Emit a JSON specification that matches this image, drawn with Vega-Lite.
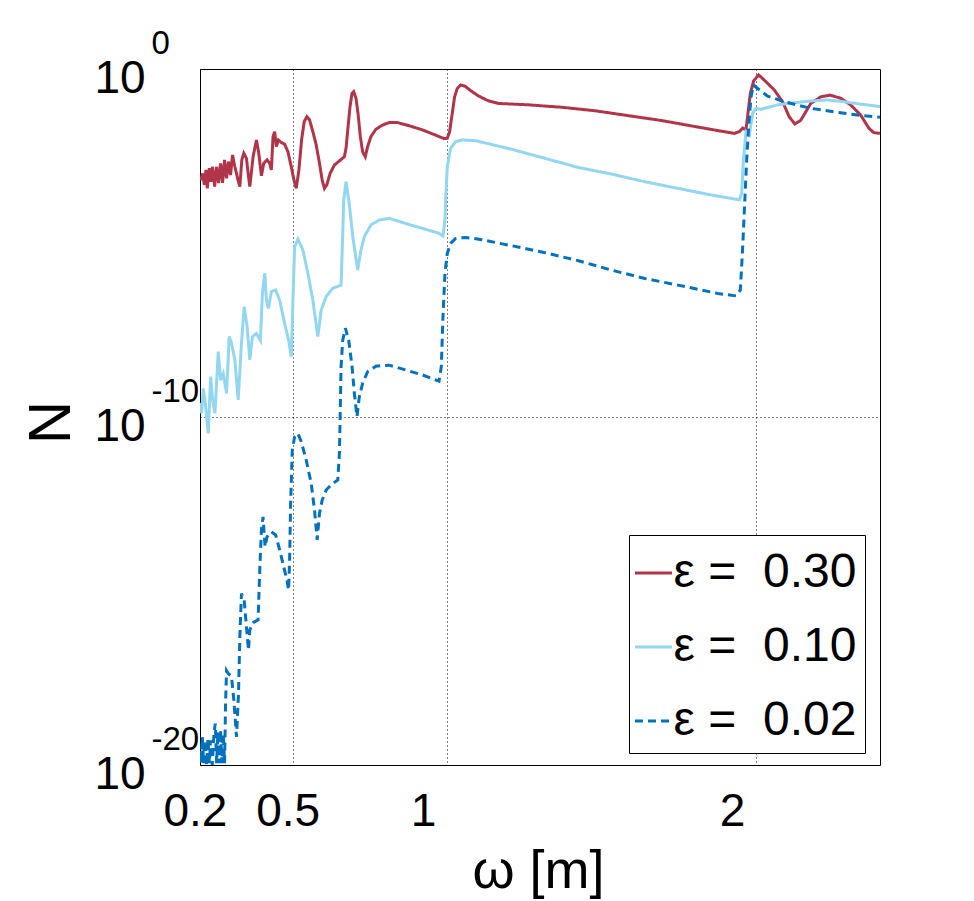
{
  "$schema": "https://vega.github.io/schema/vega-lite/v6.json",
  "width": 680,
  "height": 696,
  "autosize": {"type": "none"},
  "padding": {"left": 200, "top": 69, "right": 94, "bottom": 136},
  "background": "white",
  "config": {
    "view": {"stroke": "black", "strokeWidth": 1},
    "font": "Liberation Sans"
  },
  "resolve": {"axis": {"y": "independent"}},
  "layer": [
    {
      "data": {
        "values": [
          {"w":0.2000,"n":-3.10,"eps":"0.30"},{"w":0.2021,"n":-3.19,"eps":"0.30"},{"w":0.2086,"n":-3.00,"eps":"0.30"},{"w":0.2140,"n":-3.33,"eps":"0.30"},
          {"w":0.2193,"n":-2.90,"eps":"0.30"},{"w":0.2236,"n":-3.43,"eps":"0.30"},{"w":0.2301,"n":-2.85,"eps":"0.30"},{"w":0.2354,"n":-3.24,"eps":"0.30"},
          {"w":0.2408,"n":-2.81,"eps":"0.30"},{"w":0.2473,"n":-3.38,"eps":"0.30"},{"w":0.2537,"n":-2.81,"eps":"0.30"},{"w":0.2601,"n":-3.28,"eps":"0.30"},
          {"w":0.2666,"n":-2.71,"eps":"0.30"},{"w":0.2730,"n":-3.27,"eps":"0.30"},{"w":0.2795,"n":-2.61,"eps":"0.30"},{"w":0.2859,"n":-3.14,"eps":"0.30"},
          {"w":0.2924,"n":-2.66,"eps":"0.30"},{"w":0.2988,"n":-3.05,"eps":"0.30"},{"w":0.3052,"n":-2.47,"eps":"0.30"},{"w":0.3128,"n":-2.81,"eps":"0.30"},
          {"w":0.3181,"n":-3.00,"eps":"0.30"},{"w":0.3235,"n":-3.21,"eps":"0.30"},{"w":0.3289,"n":-3.38,"eps":"0.30"},{"w":0.3353,"n":-2.61,"eps":"0.30"},
          {"w":0.3418,"n":-2.42,"eps":"0.30"},{"w":0.3503,"n":-2.57,"eps":"0.30"},{"w":0.3557,"n":-3.00,"eps":"0.30"},{"w":0.3611,"n":-3.38,"eps":"0.30"},
          {"w":0.3718,"n":-2.52,"eps":"0.30"},{"w":0.3826,"n":-2.04,"eps":"0.30"},{"w":0.3901,"n":-2.42,"eps":"0.30"},{"w":0.3987,"n":-3.07,"eps":"0.30"},
          {"w":0.4062,"n":-2.71,"eps":"0.30"},{"w":0.4169,"n":-2.61,"eps":"0.30"},{"w":0.4255,"n":-2.71,"eps":"0.30"},{"w":0.4309,"n":-2.90,"eps":"0.30"},
          {"w":0.4363,"n":-1.94,"eps":"0.30"},{"w":0.4416,"n":-1.80,"eps":"0.30"},{"w":0.4470,"n":-2.23,"eps":"0.30"},{"w":0.4534,"n":-2.04,"eps":"0.30"},
          {"w":0.4631,"n":-2.11,"eps":"0.30"},{"w":0.4738,"n":-2.16,"eps":"0.30"},{"w":0.4846,"n":-2.38,"eps":"0.30"},{"w":0.4953,"n":-2.81,"eps":"0.30"},
          {"w":0.5039,"n":-3.19,"eps":"0.30"},{"w":0.5114,"n":-3.43,"eps":"0.30"},{"w":0.5200,"n":-2.90,"eps":"0.30"},{"w":0.5286,"n":-2.04,"eps":"0.30"},
          {"w":0.5372,"n":-1.51,"eps":"0.30"},{"w":0.5458,"n":-1.37,"eps":"0.30"},{"w":0.5544,"n":-1.46,"eps":"0.30"},{"w":0.5651,"n":-1.80,"eps":"0.30"},
          {"w":0.5759,"n":-2.18,"eps":"0.30"},{"w":0.5866,"n":-2.71,"eps":"0.30"},{"w":0.5952,"n":-3.19,"eps":"0.30"},{"w":0.6027,"n":-3.43,"eps":"0.30"},
          {"w":0.6102,"n":-3.33,"eps":"0.30"},{"w":0.6209,"n":-3.00,"eps":"0.30"},{"w":0.6349,"n":-2.76,"eps":"0.30"},{"w":0.6510,"n":-2.64,"eps":"0.30"},
          {"w":0.6671,"n":-2.52,"eps":"0.30"},{"w":0.6725,"n":-2.28,"eps":"0.30"},{"w":0.6790,"n":-1.66,"eps":"0.30"},{"w":0.6854,"n":-1.08,"eps":"0.30"},
          {"w":0.6918,"n":-0.70,"eps":"0.30"},{"w":0.6972,"n":-0.65,"eps":"0.30"},{"w":0.7047,"n":-0.84,"eps":"0.30"},{"w":0.7112,"n":-1.27,"eps":"0.30"},
          {"w":0.7187,"n":-1.94,"eps":"0.30"},{"w":0.7262,"n":-2.38,"eps":"0.30"},{"w":0.7348,"n":-2.52,"eps":"0.30"},{"w":0.7423,"n":-2.23,"eps":"0.30"},
          {"w":0.7531,"n":-1.94,"eps":"0.30"},{"w":0.7692,"n":-1.73,"eps":"0.30"},{"w":0.7906,"n":-1.61,"eps":"0.30"},{"w":0.8121,"n":-1.54,"eps":"0.30"},
          {"w":0.8390,"n":-1.54,"eps":"0.30"},{"w":0.8765,"n":-1.63,"eps":"0.30"},{"w":0.9195,"n":-1.75,"eps":"0.30"},{"w":0.9624,"n":-1.90,"eps":"0.30"},
          {"w":0.9893,"n":-2.00,"eps":"0.30"},{"w":1.0000,"n":-1.99,"eps":"0.30"},{"w":1.0076,"n":-1.80,"eps":"0.30"},{"w":1.0162,"n":-1.27,"eps":"0.30"},
          {"w":1.0237,"n":-0.80,"eps":"0.30"},{"w":1.0323,"n":-0.56,"eps":"0.30"},{"w":1.0430,"n":-0.46,"eps":"0.30"},{"w":1.0570,"n":-0.49,"eps":"0.30"},
          {"w":1.0752,"n":-0.62,"eps":"0.30"},{"w":1.1021,"n":-0.78,"eps":"0.30"},{"w":1.1343,"n":-0.92,"eps":"0.30"},{"w":1.1665,"n":-0.99,"eps":"0.30"},
          {"w":1.2632,"n":-1.03,"eps":"0.30"},{"w":1.3706,"n":-1.10,"eps":"0.30"},{"w":1.4780,"n":-1.20,"eps":"0.30"},{"w":1.5853,"n":-1.34,"eps":"0.30"},
          {"w":1.6927,"n":-1.48,"eps":"0.30"},{"w":1.8055,"n":-1.66,"eps":"0.30"},{"w":1.8753,"n":-1.77,"eps":"0.30"},{"w":1.9290,"n":-1.85,"eps":"0.30"},
          {"w":1.9451,"n":-1.80,"eps":"0.30"},{"w":1.9558,"n":-1.70,"eps":"0.30"},{"w":1.9665,"n":-1.75,"eps":"0.30"},{"w":1.9741,"n":-1.18,"eps":"0.30"},
          {"w":1.9805,"n":-0.70,"eps":"0.30"},{"w":1.9913,"n":-0.34,"eps":"0.30"},{"w":2.0074,"n":-0.17,"eps":"0.30"},{"w":2.0256,"n":-0.32,"eps":"0.30"},
          {"w":2.0578,"n":-0.60,"eps":"0.30"},{"w":2.0847,"n":-0.94,"eps":"0.30"},{"w":2.1062,"n":-1.37,"eps":"0.30"},{"w":2.1245,"n":-1.58,"eps":"0.30"},
          {"w":2.1438,"n":-1.47,"eps":"0.30"},{"w":2.1760,"n":-0.99,"eps":"0.30"},{"w":2.2082,"n":-0.80,"eps":"0.30"},{"w":2.2383,"n":-0.75,"eps":"0.30"},
          {"w":2.2727,"n":-0.84,"eps":"0.30"},{"w":2.3049,"n":-1.03,"eps":"0.30"},{"w":2.3371,"n":-1.32,"eps":"0.30"},{"w":2.3639,"n":-1.70,"eps":"0.30"},
          {"w":2.3800,"n":-1.83,"eps":"0.30"},{"w":2.4000,"n":-1.85,"eps":"0.30"},

          {"w":0.2000,"n":-9.60,"eps":"0.10"},{"w":0.2054,"n":-9.89,"eps":"0.10"},{"w":0.2107,"n":-9.18,"eps":"0.10"},{"w":0.2161,"n":-9.51,"eps":"0.10"},
          {"w":0.2268,"n":-10.47,"eps":"0.10"},{"w":0.2344,"n":-8.84,"eps":"0.10"},{"w":0.2408,"n":-9.51,"eps":"0.10"},{"w":0.2483,"n":-9.89,"eps":"0.10"},
          {"w":0.2591,"n":-8.12,"eps":"0.10"},{"w":0.2666,"n":-8.94,"eps":"0.10"},{"w":0.2752,"n":-8.75,"eps":"0.10"},{"w":0.2859,"n":-9.32,"eps":"0.10"},
          {"w":0.2945,"n":-7.69,"eps":"0.10"},{"w":0.3020,"n":-7.88,"eps":"0.10"},{"w":0.3128,"n":-8.36,"eps":"0.10"},{"w":0.3235,"n":-9.51,"eps":"0.10"},
          {"w":0.3342,"n":-7.88,"eps":"0.10"},{"w":0.3428,"n":-6.83,"eps":"0.10"},{"w":0.3525,"n":-7.40,"eps":"0.10"},{"w":0.3611,"n":-8.36,"eps":"0.10"},
          {"w":0.3697,"n":-7.69,"eps":"0.10"},{"w":0.3826,"n":-7.60,"eps":"0.10"},{"w":0.3954,"n":-7.80,"eps":"0.10"},{"w":0.4019,"n":-6.45,"eps":"0.10"},
          {"w":0.4094,"n":-5.87,"eps":"0.10"},{"w":0.4148,"n":-6.64,"eps":"0.10"},{"w":0.4212,"n":-6.88,"eps":"0.10"},{"w":0.4309,"n":-6.40,"eps":"0.10"},
          {"w":0.4448,"n":-6.35,"eps":"0.10"},{"w":0.4577,"n":-6.64,"eps":"0.10"},{"w":0.4738,"n":-7.31,"eps":"0.10"},{"w":0.4867,"n":-7.79,"eps":"0.10"},
          {"w":0.4953,"n":-8.27,"eps":"0.10"},{"w":0.5007,"n":-6.64,"eps":"0.10"},{"w":0.5061,"n":-5.11,"eps":"0.10"},{"w":0.5168,"n":-4.89,"eps":"0.10"},
          {"w":0.5329,"n":-5.20,"eps":"0.10"},{"w":0.5490,"n":-5.87,"eps":"0.10"},{"w":0.5651,"n":-6.64,"eps":"0.10"},{"w":0.5812,"n":-7.69,"eps":"0.10"},
          {"w":0.5920,"n":-6.93,"eps":"0.10"},{"w":0.6081,"n":-6.54,"eps":"0.10"},{"w":0.6296,"n":-6.30,"eps":"0.10"},{"w":0.6564,"n":-6.21,"eps":"0.10"},
          {"w":0.6618,"n":-4.72,"eps":"0.10"},{"w":0.6650,"n":-3.76,"eps":"0.10"},{"w":0.6725,"n":-3.24,"eps":"0.10"},{"w":0.6833,"n":-3.90,"eps":"0.10"},
          {"w":0.6940,"n":-4.80,"eps":"0.10"},{"w":0.7101,"n":-5.78,"eps":"0.10"},{"w":0.7208,"n":-5.20,"eps":"0.10"},{"w":0.7316,"n":-4.82,"eps":"0.10"},
          {"w":0.7531,"n":-4.48,"eps":"0.10"},{"w":0.7799,"n":-4.34,"eps":"0.10"},{"w":0.8121,"n":-4.29,"eps":"0.10"},{"w":0.8658,"n":-4.44,"eps":"0.10"},
          {"w":0.9195,"n":-4.58,"eps":"0.10"},{"w":0.9732,"n":-4.72,"eps":"0.10"},{"w":0.9861,"n":-4.80,"eps":"0.10"},{"w":0.9925,"n":-4.34,"eps":"0.10"},
          {"w":0.9947,"n":-3.76,"eps":"0.10"},{"w":1.0000,"n":-2.81,"eps":"0.10"},{"w":1.0108,"n":-2.28,"eps":"0.10"},{"w":1.0269,"n":-2.09,"eps":"0.10"},
          {"w":1.0484,"n":-2.04,"eps":"0.10"},{"w":1.0913,"n":-2.06,"eps":"0.10"},{"w":1.2096,"n":-2.31,"eps":"0.10"},{"w":1.3170,"n":-2.57,"eps":"0.10"},
          {"w":1.4244,"n":-2.83,"eps":"0.10"},{"w":1.5318,"n":-3.02,"eps":"0.10"},{"w":1.6392,"n":-3.24,"eps":"0.10"},{"w":1.7464,"n":-3.43,"eps":"0.10"},
          {"w":1.8538,"n":-3.62,"eps":"0.10"},{"w":1.9451,"n":-3.76,"eps":"0.10"},{"w":1.9526,"n":-3.57,"eps":"0.10"},{"w":1.9580,"n":-2.61,"eps":"0.10"},
          {"w":1.9665,"n":-1.80,"eps":"0.10"},{"w":1.9773,"n":-1.90,"eps":"0.10"},{"w":1.9880,"n":-1.27,"eps":"0.10"},{"w":1.9988,"n":-1.13,"eps":"0.10"},
          {"w":2.0149,"n":-1.16,"eps":"0.10"},{"w":2.0686,"n":-1.03,"eps":"0.10"},{"w":2.1223,"n":-0.97,"eps":"0.10"},{"w":2.1760,"n":-0.92,"eps":"0.10"},
          {"w":2.2297,"n":-0.89,"eps":"0.10"},{"w":2.2834,"n":-0.94,"eps":"0.10"},{"w":2.3371,"n":-1.01,"eps":"0.10"},{"w":2.4000,"n":-1.08,"eps":"0.10"},

          {"w":0.2000,"n":-19.60,"eps":"0.02"},{"w":0.2032,"n":-19.95,"eps":"0.02"},{"w":0.2075,"n":-19.19,"eps":"0.02"},{"w":0.2118,"n":-19.95,"eps":"0.02"},
          {"w":0.2161,"n":-19.29,"eps":"0.02"},{"w":0.2215,"n":-20.00,"eps":"0.02"},{"w":0.2258,"n":-19.24,"eps":"0.02"},{"w":0.2301,"n":-19.95,"eps":"0.02"},
          {"w":0.2344,"n":-19.29,"eps":"0.02"},{"w":0.2397,"n":-20.00,"eps":"0.02"},{"w":0.2451,"n":-19.10,"eps":"0.02"},{"w":0.2494,"n":-18.81,"eps":"0.02"},
          {"w":0.2537,"n":-19.95,"eps":"0.02"},{"w":0.2580,"n":-19.05,"eps":"0.02"},{"w":0.2623,"n":-19.95,"eps":"0.02"},{"w":0.2666,"n":-19.00,"eps":"0.02"},
          {"w":0.2709,"n":-19.95,"eps":"0.02"},{"w":0.2752,"n":-19.10,"eps":"0.02"},{"w":0.2795,"n":-19.95,"eps":"0.02"},{"w":0.2827,"n":-18.23,"eps":"0.02"},
          {"w":0.2859,"n":-17.29,"eps":"0.02"},{"w":0.2913,"n":-17.37,"eps":"0.02"},{"w":0.3020,"n":-17.46,"eps":"0.02"},{"w":0.3095,"n":-18.13,"eps":"0.02"},
          {"w":0.3181,"n":-19.19,"eps":"0.02"},{"w":0.3246,"n":-17.94,"eps":"0.02"},{"w":0.3289,"n":-16.31,"eps":"0.02"},{"w":0.3342,"n":-15.07,"eps":"0.02"},
          {"w":0.3428,"n":-15.26,"eps":"0.02"},{"w":0.3503,"n":-16.03,"eps":"0.02"},{"w":0.3568,"n":-16.70,"eps":"0.02"},{"w":0.3611,"n":-16.12,"eps":"0.02"},
          {"w":0.3718,"n":-15.91,"eps":"0.02"},{"w":0.3879,"n":-15.83,"eps":"0.02"},{"w":0.3933,"n":-14.40,"eps":"0.02"},{"w":0.3987,"n":-13.25,"eps":"0.02"},
          {"w":0.4040,"n":-12.87,"eps":"0.02"},{"w":0.4105,"n":-13.73,"eps":"0.02"},{"w":0.4169,"n":-13.44,"eps":"0.02"},{"w":0.4309,"n":-13.30,"eps":"0.02"},
          {"w":0.4448,"n":-13.39,"eps":"0.02"},{"w":0.4577,"n":-13.82,"eps":"0.02"},{"w":0.4706,"n":-14.30,"eps":"0.02"},{"w":0.4813,"n":-14.68,"eps":"0.02"},
          {"w":0.4867,"n":-14.97,"eps":"0.02"},{"w":0.4899,"n":-14.11,"eps":"0.02"},{"w":0.4932,"n":-12.48,"eps":"0.02"},{"w":0.4985,"n":-10.95,"eps":"0.02"},
          {"w":0.5061,"n":-10.57,"eps":"0.02"},{"w":0.5168,"n":-10.47,"eps":"0.02"},{"w":0.5276,"n":-10.71,"eps":"0.02"},{"w":0.5437,"n":-11.24,"eps":"0.02"},
          {"w":0.5598,"n":-11.91,"eps":"0.02"},{"w":0.5705,"n":-12.67,"eps":"0.02"},{"w":0.5791,"n":-13.53,"eps":"0.02"},{"w":0.5866,"n":-12.77,"eps":"0.02"},
          {"w":0.5952,"n":-12.39,"eps":"0.02"},{"w":0.6081,"n":-12.10,"eps":"0.02"},{"w":0.6242,"n":-11.95,"eps":"0.02"},{"w":0.6457,"n":-11.81,"eps":"0.02"},
          {"w":0.6510,"n":-11.05,"eps":"0.02"},{"w":0.6532,"n":-10.09,"eps":"0.02"},{"w":0.6564,"n":-8.55,"eps":"0.02"},{"w":0.6618,"n":-7.79,"eps":"0.02"},
          {"w":0.6704,"n":-7.45,"eps":"0.02"},{"w":0.6811,"n":-7.79,"eps":"0.02"},{"w":0.6919,"n":-8.55,"eps":"0.02"},{"w":0.6994,"n":-9.32,"eps":"0.02"},
          {"w":0.7079,"n":-9.99,"eps":"0.02"},{"w":0.7154,"n":-9.42,"eps":"0.02"},{"w":0.7262,"n":-9.03,"eps":"0.02"},{"w":0.7423,"n":-8.70,"eps":"0.02"},
          {"w":0.7692,"n":-8.54,"eps":"0.02"},{"w":0.8121,"n":-8.51,"eps":"0.02"},{"w":0.8658,"n":-8.65,"eps":"0.02"},{"w":0.9195,"n":-8.79,"eps":"0.02"},
          {"w":0.9732,"n":-8.97,"eps":"0.02"},{"w":0.9807,"n":-8.55,"eps":"0.02"},{"w":0.9861,"n":-7.12,"eps":"0.02"},{"w":0.9925,"n":-5.87,"eps":"0.02"},
          {"w":1.0000,"n":-5.30,"eps":"0.02"},{"w":1.0108,"n":-5.01,"eps":"0.02"},{"w":1.0269,"n":-4.87,"eps":"0.02"},{"w":1.0591,"n":-4.84,"eps":"0.02"},
          {"w":1.1021,"n":-4.89,"eps":"0.02"},{"w":1.2096,"n":-5.08,"eps":"0.02"},{"w":1.3170,"n":-5.28,"eps":"0.02"},{"w":1.4244,"n":-5.51,"eps":"0.02"},
          {"w":1.5318,"n":-5.78,"eps":"0.02"},{"w":1.6392,"n":-6.02,"eps":"0.02"},{"w":1.7464,"n":-6.21,"eps":"0.02"},{"w":1.8108,"n":-6.33,"eps":"0.02"},
          {"w":1.8753,"n":-6.45,"eps":"0.02"},{"w":1.9344,"n":-6.52,"eps":"0.02"},{"w":1.9483,"n":-6.35,"eps":"0.02"},{"w":1.9558,"n":-5.11,"eps":"0.02"},
          {"w":1.9612,"n":-4.05,"eps":"0.02"},{"w":1.9687,"n":-2.61,"eps":"0.02"},{"w":1.9751,"n":-1.66,"eps":"0.02"},{"w":1.9826,"n":-0.80,"eps":"0.02"},
          {"w":1.9902,"n":-0.46,"eps":"0.02"},{"w":2.0041,"n":-0.56,"eps":"0.02"},{"w":2.0364,"n":-0.78,"eps":"0.02"},{"w":2.0901,"n":-0.94,"eps":"0.02"},
          {"w":2.1760,"n":-1.13,"eps":"0.02"},{"w":2.2512,"n":-1.23,"eps":"0.02"},{"w":2.3264,"n":-1.32,"eps":"0.02"},{"w":2.4000,"n":-1.39,"eps":"0.02"}
        ]
      },
      "mark": {"type": "line", "strokeWidth": 3, "clip": true},
      "encoding": {
        "x": {
          "field": "w",
          "type": "quantitative",
          "scale": {"domain": [0.2, 2.4], "nice": false, "zero": false},
          "axis": {
            "values": [0.2, 0.5, 1, 2],
            "labelExpr": "'' + datum.value",
            "labelFontSize": 46,
            "labelColor": "black",
            "labelAlign": "left",
            "labelOffset": -37,
            "labelFlush": false,
            "labelOverlap": false,
            "labelBaseline": "alphabetic",
            "labelPadding": 60,
            "ticks": false,
            "tickSize": 0,
            "domain": false,
            "grid": true,
            "gridColor": "black",
            "gridDash": [1, 3],
            "gridWidth": 1,
            "gridOpacity": 1,
            "title": "ω [m]",
            "titleFontSize": 54,
            "titleFontWeight": "normal",
            "titleColor": "black",
            "titleAlign": "center",
            "titleBaseline": "alphabetic",
            "titleX": 338,
            "titleY": 122
          }
        },
        "y": {
          "field": "n",
          "type": "quantitative",
          "scale": {"domain": [-20, 0], "nice": false, "zero": false},
          "axis": {
            "orient": "left",
            "values": [-20, -10, 0],
            "labelExpr": "'10'",
            "labelFontSize": 46,
            "labelColor": "black",
            "labelAlign": "left",
            "labelBaseline": "alphabetic",
            "labelFlush": false,
            "labelOverlap": false,
            "labelPadding": 106,
            "labelOffset": 23,
            "ticks": false,
            "tickSize": 0,
            "domain": false,
            "grid": true,
            "gridColor": "black",
            "gridDash": [1, 3],
            "gridWidth": 1,
            "gridOpacity": 1,
            "title": "N",
            "titleFontSize": 60,
            "titleFontWeight": "normal",
            "titleColor": "black",
            "titleAngle": -90,
            "titleAlign": "center",
            "titleBaseline": "alphabetic",
            "titleX": -131,
            "titleY": 353
          }
        },
        "color": {
          "field": "eps",
          "type": "nominal",
          "scale": {"domain": ["0.30", "0.10", "0.02"], "range": ["#B03548", "#93D6EF", "#0072BD"]},
          "legend": {
            "title": " ",
            "titleFontSize": 4,
            "titlePadding": 2,
            "orient": "none",
            "legendX": 429,
            "legendY": 466,
            "strokeColor": "black",
            "fillColor": "white",
            "padding": 8,
            "symbolType": "stroke",
            "symbolSize": 1369,
            "symbolStrokeWidth": 3,
            "symbolOffset": -7.5,
            "labelFontSize": 48,
            "labelColor": "black",
            "labelOffset": -4,
            "labelLimit": 0,
            "rowPadding": 26,
            "labelExpr": "'ε = \u00a0' + datum.label"
          }
        },
        "strokeDash": {
          "field": "eps",
          "type": "nominal",
          "scale": {"domain": ["0.30", "0.10", "0.02"], "range": [[1, 0], [1, 0], [8, 5]]},
          "legend": {
            "title": " ",
            "titleFontSize": 4,
            "titlePadding": 2,
            "orient": "none",
            "legendX": 429,
            "legendY": 466,
            "strokeColor": "black",
            "fillColor": "white",
            "padding": 8,
            "symbolType": "stroke",
            "symbolSize": 1369,
            "symbolStrokeWidth": 3,
            "symbolOffset": -7.5,
            "labelFontSize": 48,
            "labelColor": "black",
            "labelOffset": -4,
            "labelLimit": 0,
            "rowPadding": 26,
            "labelExpr": "'ε = \u00a0' + datum.label"
          }
        }
      }
    },
    {
      "data": {"values": [{"n": 0}, {"n": -10}, {"n": -20}]},
      "mark": {"type": "point", "opacity": 0},
      "encoding": {
        "y": {
          "field": "n",
          "type": "quantitative",
          "scale": {"domain": [-20, 0], "nice": false, "zero": false},
          "axis": {
            "orient": "left",
            "values": [-20, -10, 0],
            "labelExpr": "'' + datum.value",
            "labelFontSize": 33,
            "labelColor": "black",
            "labelAlign": "left",
            "labelBaseline": "alphabetic",
            "labelFlush": false,
            "labelOverlap": false,
            "labelPadding": 49,
            "labelOffset": -16,
            "ticks": false,
            "tickSize": 0,
            "domain": false,
            "grid": false,
            "title": null
          }
        }
      }
    }
  ]
}
